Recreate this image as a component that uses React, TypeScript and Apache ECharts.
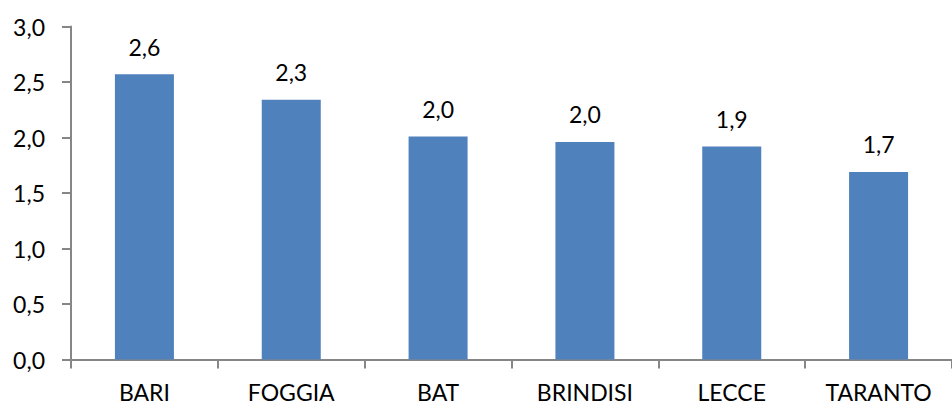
import React, { useEffect, useRef } from "react";
import * as echarts from "echarts";

// Province names and their values
const provinces = ["BARI", "FOGGIA", "BAT", "BRINDISI", "LECCE", "TARANTO"];
const values = [2.57, 2.34, 2.01, 1.96, 1.92, 1.69];

// Value axis range
const yMin = 0;
const yMax = 3;
const yStep = 0.5;

const fmt = (v: number) => v.toFixed(1).replace(".", ",");

const FONT = "Lato, 'Open Sans', sans-serif";
const AXIS_GREY = "#868686";

export default function App() {
  const ref = useRef<HTMLDivElement>(null);

  useEffect(() => {
    if (!ref.current) return;
    const chart = echarts.init(ref.current, undefined, { renderer: "svg" });
    chart.setOption({
      animation: false,
      backgroundColor: "#ffffff",
      grid: { left: 71, top: 26.5, width: 890, height: 333, containLabel: false },
      xAxis: {
        type: "category",
        data: provinces,
        axisLine: { lineStyle: { color: AXIS_GREY, width: 2 } },
        axisTick: { show: true, length: 9, lineStyle: { color: AXIS_GREY, width: 2 } },
        axisLabel: { color: "#000", fontFamily: FONT, fontSize: 23, margin: 21 },
        splitLine: { show: false },
      },
      yAxis: {
        type: "value",
        min: yMin,
        max: yMax,
        interval: yStep,
        axisLine: { show: true, lineStyle: { color: AXIS_GREY, width: 2 } },
        axisTick: { show: true, length: 9, lineStyle: { color: AXIS_GREY, width: 2 } },
        axisLabel: { color: "#000", fontFamily: FONT, fontSize: 23, margin: 26, formatter: (v: number) => fmt(v) },
        splitLine: { show: false },
      },
      series: [
        {
          type: "bar",
          data: values,
          barWidth: 59,
          itemStyle: { color: "#4F81BD" },
          label: {
            show: true,
            position: "top",
            distance: 16,
            color: "#000",
            fontFamily: FONT,
            fontSize: 23,
            formatter: (p: any) => fmt(p.value),
          },
        },
      ],
    });
    return () => chart.dispose();
  }, []);

  return (
    <div
      ref={ref}
      style={{ position: "fixed", left: 0, top: 0, width: 952, height: 405 }}
    />
  );
}
